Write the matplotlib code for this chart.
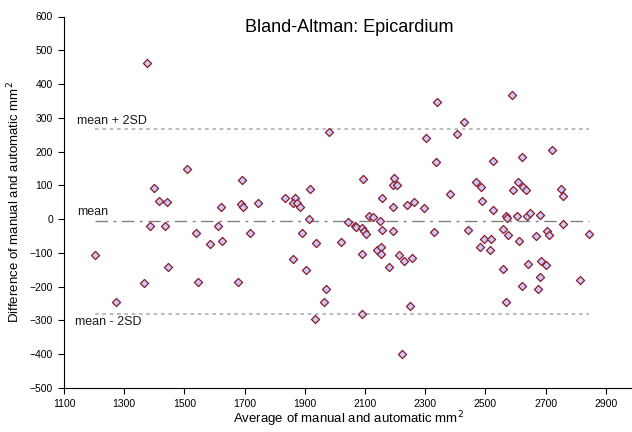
import matplotlib
matplotlib.use("Agg")
import matplotlib.pyplot as plt
import numpy as np

avg = [1376, 1979, 1508, 1691, 1400, 1417, 1441, 1620, 1688, 1695, 1745, 1833, 1867, 1861, 1875,
       1884, 1917, 1915, 2043, 2066, 2070, 1386, 1435, 1611, 1537, 1718, 1892,
       1203, 1272, 1366, 1446, 1545, 1586, 1626, 1678, 1861, 1905, 1938, 1969, 1963, 1935, 2020,
       2338, 2588, 2429, 2406, 2302, 2720, 2623, 2335, 2524, 2094, 2195, 2192, 2207, 2470, 2484,
       2608, 2592, 2626, 2634, 2750, 2758, 2382, 2155, 2240, 2264, 2192, 2297, 2490, 2524, 2114,
       2125, 2149, 2568, 2573, 2606, 2637, 2649, 2680, 2155, 2192, 2328, 2443, 2557,
       2091, 2096, 2104, 2576, 2704, 2710, 2758, 2843, 2667, 2613, 2496, 2519, 2483, 2514, 2091,
       2139, 2152, 2152, 2213, 2230, 2257, 2180, 2557, 2640, 2684, 2701, 2680, 2815, 2623, 2676,
       2568, 2250, 2091, 2222]
diff = [462, 257, 148, 116, 92, 54, 51, 36, 45, 36, 48, 64, 64, 48, 48,
        36, 89, 1, -8, -20, -23, -20, -20, -20, -42, -42, -40,
        -105, -245, -189, -142, -186, -73, -64, -186, -118, -152, -70, -207, -245, -295, -67,
        347, 369, 287, 253, 241, 206, 185, 169, 172, 119, 122, 101, 101, 110, 95,
        110, 85, 95, 85, 89, 69, 73, 63, 41, 50, 36, 33, 54, 26, 8,
        5, -5, 8, 3, 8, 8, 17, 11, -31, -34, -37, -31, -28,
        -26, -34, -43, -46, -36, -46, -15, -43, -51, -64, -58, -58, -83, -92, -102,
        -92, -82, -102, -105, -123, -115, -142, -148, -132, -123, -136, -170, -180, -199, -207,
        -245, -258, -280, -398]

mean_val = -6
upper_val = 268
lower_val = -281

x_ticks = [1100, 1300, 1500, 1700, 1900, 2100, 2300, 2500, 2700, 2900]
y_ticks = [600, 500, 400, 300, 200, 100, 0, -100, -200, -300, -400, -500]

plt.rcParams['font.family'] = ['Liberation Sans', 'DejaVu Sans']

fig = plt.figure(figsize=(6.32, 4.32), dpi=100)
ax = fig.add_axes([64 / 632, (432 - 388) / 432, 1 - 64 / 632, (388 - 16.5) / 432])

xmin, xmax = min(avg), max(avg)
ax.plot([xmin, xmax], [upper_val, upper_val], color='#b0b0b0', linestyle=(0, (2.2, 2.2)), linewidth=1.2)
ax.plot([xmin, xmax], [lower_val, lower_val], color='#b0b0b0', linestyle=(0, (2.2, 2.2)), linewidth=1.2)
ax.plot([xmin, xmax], [mean_val, mean_val], color='#808080', linestyle=(0, (9, 4, 2, 4)), linewidth=1.0)

ax.scatter(avg, diff, marker='D', s=17, facecolor='#c9c9f2', edgecolor='#8c1a2e', linewidth=0.9, zorder=3)

ax.text(1143, upper_val + 14, 'mean + 2SD', fontsize=9, va='baseline', ha='left', color='#1a1a1a')
ax.text(1143, mean_val + 18, 'mean', fontsize=9, va='baseline', ha='left', color='#1a1a1a')
ax.text(1137, lower_val - 33, 'mean - 2SD', fontsize=9, va='baseline', ha='left', color='#1a1a1a')

ax.set_xlim(1100, 2987)
ax.set_ylim(-500, 600)
ax.set_xticks(x_ticks)
ax.set_yticks(y_ticks)
ax.tick_params(axis='both', labelsize=7.5, length=4, width=0.8, direction='out', pad=4)
for s in ['top', 'right']:
    ax.spines[s].set_visible(False)
for s in ['left', 'bottom']:
    ax.spines[s].set_linewidth(0.8)

ax.set_xlabel('Average of manual and automatic mm$^{2}$', fontsize=9.5, labelpad=0)
ax.set_ylabel('Difference of manual and automatic mm$^{2}$', fontsize=9.5, labelpad=5)
fig.text(349 / 632, 1 - 28 / 432, 'Bland-Altman: Epicardium', fontsize=13, ha='center', va='center')

fig.savefig('out.png', dpi=100)
